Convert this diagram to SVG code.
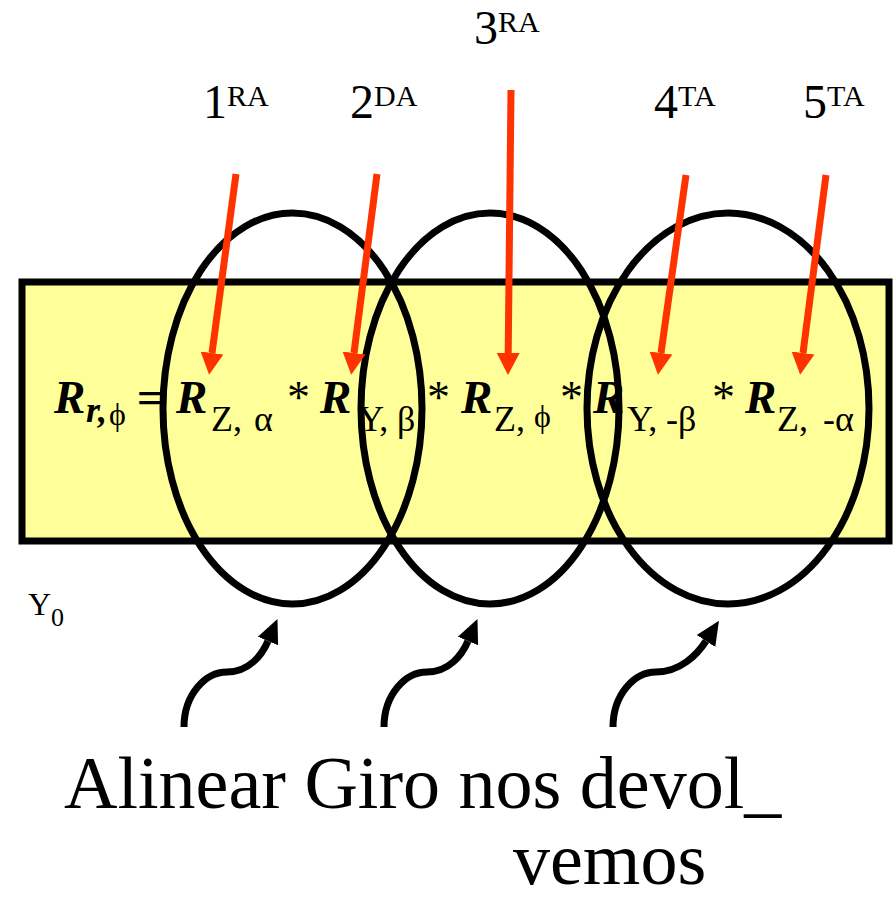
<svg xmlns="http://www.w3.org/2000/svg" width="895" height="902" viewBox="0 0 895 902">
<style>
.t{font-family:"Liberation Serif","Times New Roman","DejaVu Serif",serif;fill:#000}
.bi{font-weight:bold;font-style:italic;font-size:47px}
.sub{font-size:36px}
.phi{font-size:32px}
.ast{font-size:46px}
.num{font-size:48px}
.sup{font-size:30px}
.big{font-size:74px}
.ell{fill:none;stroke:#000;stroke-width:7}
.red{stroke:#ff3300;stroke-width:7;fill:none;marker-end:url(#ra)}
.blk{stroke:#000;stroke-width:7;fill:none;marker-end:url(#ba)}
</style>
<defs>
<marker id="ra" markerUnits="userSpaceOnUse" markerWidth="24" markerHeight="24" refX="0" refY="11.5" orient="auto" viewBox="0 0 24 23">
<path d="M0,0 L22,11.5 L0,23 z" fill="#ff3300"/>
</marker>
<marker id="ba" markerUnits="userSpaceOnUse" markerWidth="26" markerHeight="24" refX="0" refY="11" orient="auto" viewBox="0 0 26 22">
<path d="M0,0 L24,11 L0,22 z" fill="#000"/>
</marker>
</defs>
<g id="box">
<rect x="22" y="282" width="867" height="259" fill="#ffff99" stroke="#000" stroke-width="7"/>
</g>
<g id="formula">
<text class="t"><tspan class="bi" x="54" y="413">R</tspan><tspan class="bi" style="font-size:36px" x="86" y="422">r,</tspan><tspan class="phi" x="109" y="425">ϕ</tspan><tspan style="font-size:46px;font-weight:bold" x="137" y="413">=</tspan><tspan class="bi" x="176" y="413">R</tspan><tspan class="sub" x="211" y="431">Z,</tspan><tspan class="sub" x="254" y="431">α</tspan><tspan class="ast" x="287" y="413">*</tspan><tspan class="bi" x="320" y="413">R</tspan><tspan class="sub" x="358" y="431">Y,</tspan><tspan class="sub" x="397" y="431">β</tspan><tspan class="ast" x="427" y="413">*</tspan><tspan class="bi" x="461" y="413">R</tspan><tspan class="sub" x="494" y="431">Z,</tspan><tspan class="phi" x="534" y="427">ϕ</tspan><tspan class="ast" x="560" y="413">*</tspan><tspan class="bi" x="593" y="413">R</tspan><tspan class="sub" x="627" y="431">Y,</tspan><tspan class="sub" x="666" y="431">-β</tspan><tspan class="ast" x="712" y="413">*</tspan><tspan class="bi" x="745" y="413">R</tspan><tspan class="sub" x="777" y="431">Z,</tspan><tspan class="sub" x="823" y="431">-α</tspan></text>
</g>
<g id="ellipse1"><ellipse class="ell" cx="292.5" cy="408.5" rx="129.5" ry="195.5"/></g>
<g id="ellipse2"><ellipse class="ell" cx="490" cy="408.5" rx="129" ry="195.5"/></g>
<g id="ellipse3"><ellipse class="ell" cx="728" cy="408.5" rx="141" ry="195.5"/></g>
<g id="label1"><text class="t"><tspan class="num" x="203" y="118">1</tspan><tspan class="sup" y="106">RA</tspan></text></g>
<g id="label2"><text class="t"><tspan class="num" x="350" y="118">2</tspan><tspan class="sup" y="106">DA</tspan></text></g>
<g id="label3"><text class="t"><tspan class="num" x="474" y="44">3</tspan><tspan class="sup" y="32">RA</tspan></text></g>
<g id="label4"><text class="t"><tspan class="num" x="654" y="118">4</tspan><tspan class="sup" y="106">TA</tspan></text></g>
<g id="label5"><text class="t"><tspan class="num" x="803" y="118">5</tspan><tspan class="sup" y="106">TA</tspan></text></g>
<g id="y0"><text class="t"><tspan style="font-size:32px" x="28" y="615">Y</tspan><tspan style="font-size:26px" y="626">0</tspan></text></g>
<g id="caption"><text class="t big" x="64" y="808">Alinear Giro nos devol_</text><text class="t big" x="513" y="884">vemos</text></g>
<g id="connectors">
<path class="red" d="M236,174 L212,353"/>
<path class="red" d="M377,174 L354,353"/>
<path class="red" d="M511,90 L508.2,353"/>
<path class="red" d="M686,175 L661,353"/>
<path class="red" d="M826,175 L803,353"/>
<path class="blk" d="M184,727 C184,695 205,672 227,672 C249,672 262,655 268,641"/>
<path class="blk" d="M384,727 C384,695 405,672 427,672 C449,672 462,655 468,641"/>
<path class="blk" d="M613,727 C613,695 634,672 656,672 C680,672 697,655 706,641"/>
</g>
</svg>
